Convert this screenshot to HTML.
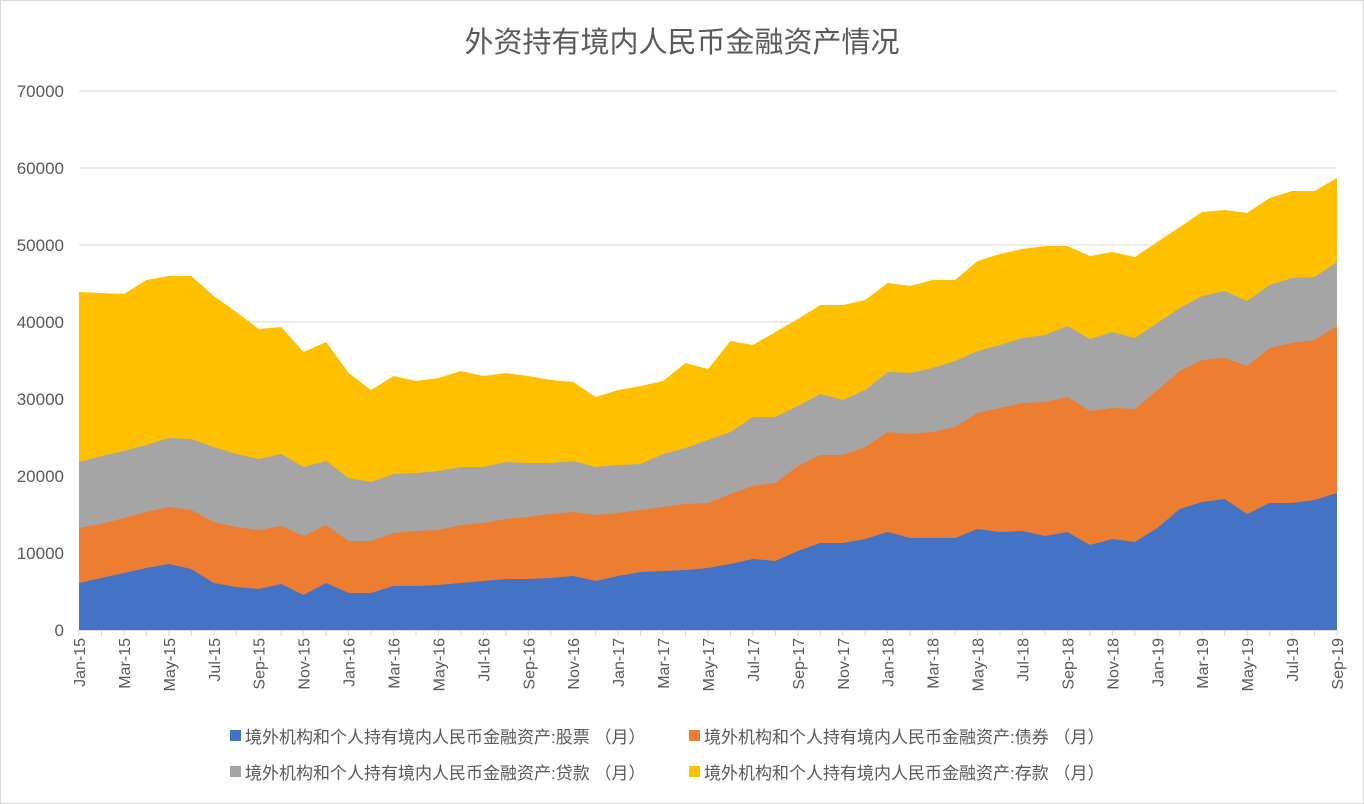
<!DOCTYPE html>
<html><head><meta charset="utf-8"><style>
html,body{margin:0;padding:0;background:#fff;}
svg{display:block;font-family:"Liberation Sans","Noto Sans CJK SC",sans-serif;}
</style></head><body>
<svg id="c" width="1364" height="804" viewBox="0 0 1364 804" xmlns="http://www.w3.org/2000/svg">
<rect x="0.5" y="0.5" width="1363" height="803" fill="#fff" stroke="#d9d9d9"/>
<text x="682" y="52" text-anchor="middle" font-size="29" fill="#595959">外资持有境内人民币金融资产情况</text>
<g id="grid"></g>
<g id="areas"></g>
<g id="labels" font-size="16" fill="#595959"></g>
<g font-size="17" fill="#595959">
<rect x="230" y="730" width="11" height="11" fill="#4472C4"/><text x="245" y="743">境外机构和个人持有境内人民币金融资产:股票 （月）</text>
<rect x="689" y="730" width="11" height="11" fill="#ED7D31"/><text x="704" y="743">境外机构和个人持有境内人民币金融资产:债券 （月）</text>
<rect x="230" y="766" width="11" height="11" fill="#A5A5A5"/><text x="245" y="779">境外机构和个人持有境内人民币金融资产:贷款 （月）</text>
<rect x="689" y="766" width="11" height="11" fill="#FFC000"/><text x="704" y="779">境外机构和个人持有境内人民币金融资产:存款 （月）</text>
</g>
</svg>
<script>
var blue=[583,578,573,568,564,569,583,587,589,584,595,583,593,593,586,586,585,583,581,579,579,578,576,581,576,572,571,570,568,564,559,561,551,543,543,539,532,538,538,538,529,532,531,536,532,545,539,542,528,509,502,499,514,503,503,500,493];
var orange=[528,524,518,512,507,510,522,527,530,526,536,525,541,541,533,531,530,525,523,519,517,514,512,515,513,510,507,504,503,494,486,483,466,455,455,447,432,434,432,427,413,408,403,402,397,411,408,409,390,371,360,358,366,348,343,340,326];
var gray=[462,456,451,445,438,439,447,454,459,454,467,461,478,482,474,473,471,467,467,462,463,463,461,467,465,464,454,448,440,432,417,417,406,394,400,390,372,373,368,361,351,345,338,335,326,339,332,338,323,308,296,291,301,285,278,277,262];
var yellow=[292,293,294,280,276,276,296,312,329,327,352,342,373,390,376,381,378,371,376,373,376,380,382,397,390,386,381,363,369,341,345,332,319,305,305,300,283,286,280,280,261,254,249,246,246,256,252,257,242,227,212,210,213,198,191,191,178];
var NS="http://www.w3.org/2000/svg",x0=79,dx=1258/56,base=630;
function el(t,a,p,txt){var e=document.createElementNS(NS,t);for(var k in a)e.setAttribute(k,a[k]);if(txt!=null)e.textContent=txt;p.appendChild(e);return e;}
var g=document.getElementById('grid'),ar=document.getElementById('areas'),lb=document.getElementById('labels');
for(var i=1;i<=7;i++){var y=630-77*i;el('line',{x1:79,x2:1337,y1:y,y2:y,stroke:'#d9d9d9','stroke-width':1},g);}
for(var i=0;i<=7;i++){el('text',{x:64,y:630-77*i+6,'text-anchor':'end','font-size':17},lb,String(i*10000));}
[[yellow,'#FFC000'],[gray,'#A5A5A5'],[orange,'#ED7D31'],[blue,'#4472C4']].forEach(function(s){
var p=x0+','+base;s[0].forEach(function(v,j){p+=' '+(x0+j*dx).toFixed(1)+','+v;});p+=' '+(x0+56*dx)+','+base;
el('polygon',{points:p,fill:s[1]},ar);});
el('line',{x1:79,x2:1337,y1:630.5,y2:630.5,stroke:'#d9d9d9'},ar);
var mon=['Jan','Mar','May','Jul','Sep','Nov'];
for(var j=0;j<=56;j++){var x=x0+j*dx;el('line',{x1:x,x2:x,y1:630,y2:636,stroke:'#d9d9d9'},ar);
if(j%2==0){var m=j%12,yr=15+Math.floor(j/12);var t=mon[m/2]+'-'+yr;
el('text',{x:0,y:0,transform:'translate('+(x+6)+',638) rotate(-90)','text-anchor':'end'},lb,t);}}
</script>
</body></html>
